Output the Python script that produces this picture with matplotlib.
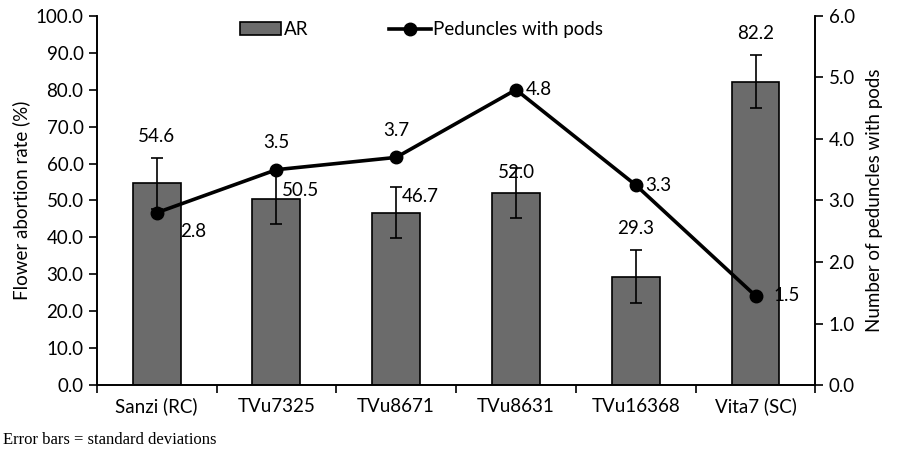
import matplotlib.pyplot as plt
import numpy as np
from matplotlib.ticker import FormatStrFormatter

plt.rcParams['font.family'] = ['Lato', 'DejaVu Sans']

genotypes = ['Sanzi (RC)', 'TVu7325', 'TVu8671', 'TVu8631', 'TVu16368', 'Vita7 (SC)']
abortion = [54.6, 50.5, 46.7, 52.0, 29.3, 82.2]
abortion_sd = [6.9, 7.0, 7.0, 6.8, 7.2, 7.1]
peduncles = [2.8, 3.5, 3.7, 4.8, 3.25, 1.45]
peduncle_labels = ['2.8', '3.5', '3.7', '4.8', '3.3', '1.5']

fs = 13.5

fig = plt.figure(figsize=(9.04, 4.53), dpi=100)
ax = fig.add_axes([0.107, 0.150, 0.795, 0.815])
ax2 = ax.twinx()

x = np.arange(len(genotypes))
bars = ax.bar(x, abortion, width=0.4, color='#6b6b6b', edgecolor='black', linewidth=1.2,
              yerr=abortion_sd, error_kw=dict(ecolor='black', elinewidth=1.2, capsize=4, capthick=1.2),
              label='AR', zorder=2)
line, = ax2.plot(x, peduncles, color='black', lw=2.6, marker='o', markersize=9,
                 label='Peduncles with pods', zorder=3)

ax.set_xlim(-0.5, len(genotypes) - 0.5)
ax.set_ylim(0, 100)
ax2.set_ylim(0, 6)
ax.set_yticks(np.arange(0, 101, 10))
ax2.set_yticks(np.arange(0, 6.1, 1))
ax.yaxis.set_major_formatter(FormatStrFormatter('%.1f'))
ax2.yaxis.set_major_formatter(FormatStrFormatter('%.1f'))
ax.set_xticks(x)
ax.set_xticklabels(genotypes)
ax.set_xticks(np.arange(-0.5, len(genotypes)), minor=True)
ax.tick_params(axis='x', which='major', length=0, labelsize=fs, pad=9)
ax.tick_params(axis='x', which='minor', length=6, width=1.2, direction='out')
ax.tick_params(axis='y', length=6, width=1.2, labelsize=fs)
ax2.tick_params(axis='y', length=6, width=1.2, labelsize=fs)

for a in (ax, ax2):
    a.spines['top'].set_visible(False)
    for s in ('left', 'right', 'bottom'):
        a.spines[s].set_linewidth(1.2)

ax.set_ylabel('Flower abortion rate (%)', fontsize=fs)
ax2.set_ylabel('Number of peduncles with pods', fontsize=fs, labelpad=8)

# bar value labels
bar_offsets = [(0, 3.5, 'center'), (0.05, -7.0, 'left'), (0.05, -5.0, 'left'),
               (0, -3.5, 'center'), (0, 3.5, 'center'), (0, 3.5, 'center')]
for i, (v, sd) in enumerate(zip(abortion, abortion_sd)):
    dx, dy, ha = bar_offsets[i]
    ax.text(x[i] + dx, v + sd + dy, f'{v:.1f}', ha=ha, va='bottom', fontsize=fs, zorder=4)

# line value labels
line_offsets = [(0.2, -0.3, 'left', 'center'), (0, 0.3, 'center', 'bottom'),
                (0, 0.3, 'center', 'bottom'), (0.08, 0.0, 'left', 'center'),
                (0.08, 0.0, 'left', 'center'), (0.15, 0.0, 'left', 'center')]
for i, (v, lab) in enumerate(zip(peduncles, peduncle_labels)):
    dx, dy, ha, va = line_offsets[i]
    ax2.text(x[i] + dx, v + dy, lab, ha=ha, va=va, fontsize=fs, zorder=4)

fig.legend([bars, line], ['AR', 'Peduncles with pods'], ncol=2, frameon=False,
           loc='upper left', bbox_to_anchor=(0.247, 0.99), fontsize=fs,
           handlelength=2.2, columnspacing=4.3, handletextpad=0.15)

fig.text(0.003, 0.02, 'Error bars = standard deviations', family='Liberation Serif', fontsize=12)

fig.savefig('out.png', dpi=100)
